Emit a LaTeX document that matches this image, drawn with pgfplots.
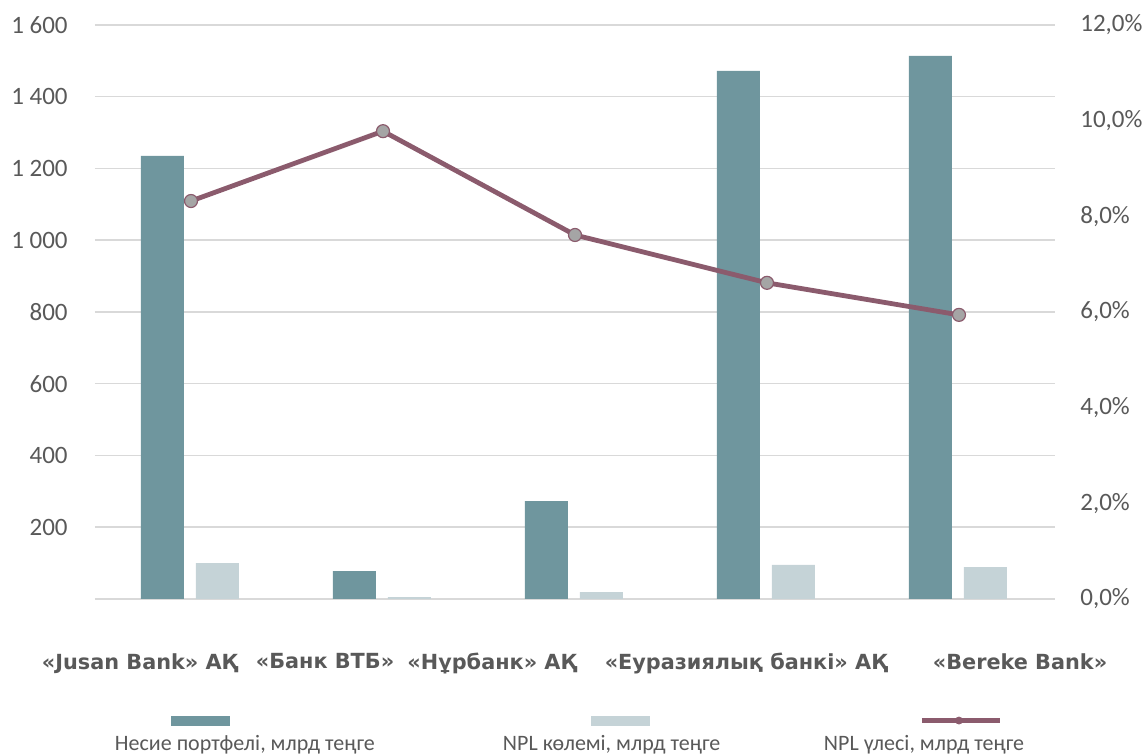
\documentclass[border=0pt]{standalone}
\usepackage{pgfplots}
\pgfplotsset{compat=1.18}
\usepackage{fontspec}
\setmainfont{Carlito}
\newfontfamily\catfont{DejaVu Sans}
\definecolor{loanc}{HTML}{6F969E}
\definecolor{nplc}{HTML}{C5D3D7}
\definecolor{linec}{HTML}{8B5B6D}
\definecolor{markc}{HTML}{A5A5A5}
\definecolor{gridc}{HTML}{D9D9D9}
\definecolor{txtc}{HTML}{595959}
\begin{document}
\begin{tikzpicture}
\path[use as bounding box] (0,0) rectangle (574pt,378pt);
\begin{axis}[
  at={(47.5pt,78.5pt)}, anchor=south west,
  width=480pt, height=287pt, scale only axis,
  xmin=-0.5, xmax=4.5, ymin=0, ymax=1600,
  axis line style={draw=none},
  major tick length=0pt,
  ymajorgrids, grid style={gridc, line width=0.75pt},
  xtick={-0.266,0.698,1.568,2.891,4.318},
  xticklabels={{«Jusan Bank» АҚ},{«Банк ВТБ»},{«Нұрбанк» АҚ},{«Еуразиялық банкі» АҚ},{«Bereke Bank»}},
  xticklabel style={font=\catfont\bfseries\fontsize{10.4}{12}\selectfont, text=txtc, anchor=north, inner sep=0pt, yshift=-27pt},
  ytick={0,200,...,1600},
  yticklabels={,200,400,600,800,1~000,1~200,1~400,1~600},
  yticklabel style={font=\fontsize{12.5}{15}\selectfont, text=txtc, anchor=east, inner sep=0pt, xshift=-13.5pt},
  legend columns=3,
  legend style={at={(0.0208,-0.2515)}, anchor=west, draw=none, fill=none,
    inner sep=0pt, outer sep=0pt, column sep=0pt,
    nodes={inner sep=0pt, text depth=0pt},
    cells={anchor=west},
    font=\fontsize{11}{13}\selectfont, text=txtc},
]
\addplot[ybar, bar width=21.5pt, bar shift=-14.25pt, fill=loanc, draw=none,
  legend image code/.code={\fill[overlay, loanc] (28pt,8.9pt) rectangle (57.5pt,13.9pt);}]
  coordinates {(0,1235) (1,78) (2,273) (3,1472) (4,1514)};
\addlegendentry{\makebox[194pt][l]{Несие портфелі, млрд теңге}}
\addplot[ybar, bar width=21.5pt, bar shift=13.25pt, fill=nplc, draw=none,
  legend image code/.code={\fill[overlay, nplc] (44pt,8.9pt) rectangle (73.5pt,13.9pt);}]
  coordinates {(0,100) (1,5) (2,19.5) (3,95) (4,89)};
\addlegendentry{\makebox[160.5pt][l]{NPL көлемі, млрд теңге}}
\addlegendimage{legend image code/.code={\draw[overlay, linec, line width=2.5pt] (49pt,11.4pt) -- (88pt,11.4pt); \fill[overlay, linec] (67.5pt,11.4pt) circle (1.75pt);}}
\addlegendentry{NPL үлесі, млрд теңге}
\end{axis}
\begin{axis}[
  at={(47.5pt,78.5pt)}, anchor=south west,
  width=480pt, height=287pt, scale only axis,
  xmin=-0.5, xmax=4.5, ymin=0, ymax=12,
  axis line style={draw=none},
  major tick length=0pt,
  xtick=\empty,
  ytick={0,2,...,12},
  yticklabels={{0,0\%},{2,0\%},{4,0\%},{6,0\%},{8,0\%},{10,0\%},{12,0\%}},
  yticklabel pos=right,
  yticklabel style={font=\fontsize{12.5}{15}\selectfont, text=txtc, anchor=west, inner sep=0pt, xshift=12.5pt},
]
\addplot[linec, line width=2.4pt, mark=*, mark size=3.25pt,
  mark options={fill=markc, draw=linec, line width=0.6pt}]
  coordinates {(0,8.32) (1,9.78) (2,7.61) (3,6.61) (4,5.94)};
\end{axis}
\end{tikzpicture}
\end{document}
